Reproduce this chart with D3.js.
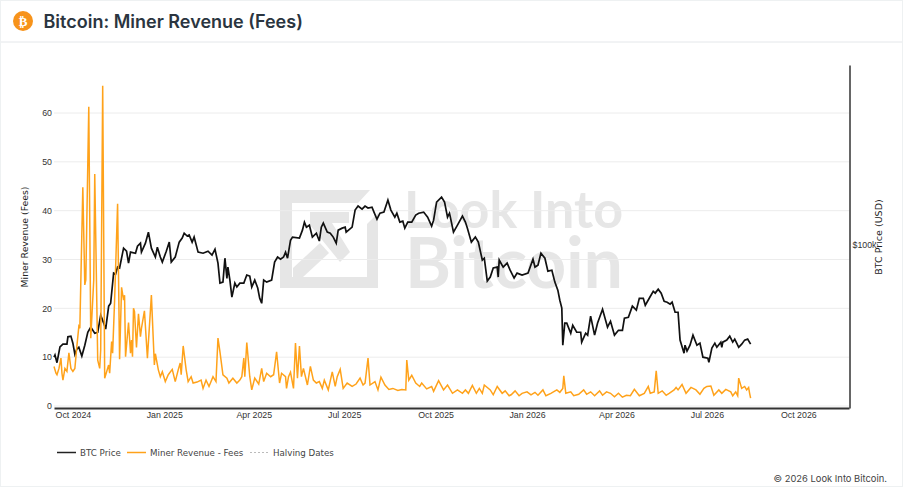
<!DOCTYPE html>
<html lang="en">
<head>
<meta charset="UTF-8">
<title>Bitcoin: Miner Revenue (Fees)</title>
<style>
  html, body { margin: 0; background: #fff; }
  svg { display: block; font-family: "DejaVu Sans", sans-serif; }
</style>
</head>
<body>
<svg width="903" height="488"></svg>
<script src="https://d3js.org/d3.v7.min.js"></script>
<script>
// days counted from the first data point
const startDate = "2024-09-12";
const xTicks = ["2024-10-01","2025-01-01","2025-04-01","2025-07-01","2025-10-01","2026-01-01","2026-04-01","2026-07-01","2026-10-01"];
const feeTicks = [0,10,20,30,40,50,60];
const priceTicks = [100];
const legendNames = ["BTC Price","Miner Revenue - Fees","Halving Dates"];

const priceDays = [0,1,3,6,9,13,14,17,19,21,23,25,28,31,34,37,41,44,47,50,52,55,57,60,62,64,66,70,73,75,77,82,84,87,88,92,95,98,102,104,107,109,113,116,118,122,126,129,131,134,136,139,141,145,150,155,159,162,165,167,170,172,174,175,177,179,182,184,187,191,194,197,199,202,205,207,209,211,214,219,222,225,228,
231,233,235,238,240,247,250,252,254,257,260,264,267,269,271,275,278,281,284,286,290,293,294,300,303,306,310,313,316,320,322,325,328,332,336,339,343,345,348,351,353,356,360,364,367,372,376,380,382,385,390,393,396,398,402,406,411,414,416,420,424,427,431,433,436,439,442,446,447,448,452,456,459,
463,466,471,477,482,484,487,490,494,497,501,504,507,509,511,512,514,516,520,522,526,530,531,535,537,540,544,547,552,557,560,564,568,572,574,578,582,586,589,593,595,599,603,605,608,611,614,617,620,622,625,628,630,634,635,637,640,643,647,650,653,658,659,662,665,667,671,672,673,677,680,683,685,687,689,692,695,698,701];
const priceValues = [59.4,60,57.9,62.3,63.1,63.1,65.3,65.5,63.4,60.2,61.7,62.2,59.7,62.8,66.7,68.3,66.4,66.7,72.2,69.6,67.7,75.3,76.3,87.8,87.4,90.3,89.9,98.6,97.2,92,96.8,96.3,99.5,100.9,96.8,100.9,106.2,98.6,94.6,99,94.6,92.4,97.2,101.4,92.4,94.6,101.4,103.3,105.7,104.3,104.8,101.4,103.8,96.8,96.3,97.2,95.5,98.1,92,83.8,84.2,94.1,85.7,90.3,85,78.5,83.8,82.3,83.8,83.8,87,86.6,82.3,85,81.9,78.1,76.3,85,84.2,85,92.4,94.6,93.7,
94.6,96.8,94.1,102.3,103.8,103.3,107.2,111.2,108.7,109.7,103.8,105.7,101.9,108.7,110.8,106.2,105.7,103.8,100.9,107.2,108.2,108.7,106.2,108.7,117.7,119.9,118.2,119.9,118.8,119.3,116.6,112.8,116,116.6,123.3,117.7,113.9,116,111.3,111.8,108.2,111.3,111.3,115,116,116.6,113.9,109.2,112.3,122.1,125,122.1,113.9,116,106.2,109.7,114.4,111.3,108.2,101.4,103.8,101.4,93.3,94.1,84.6,86.2,89.9,90.3,86.2,93.3,90.3,92,89,
85.8,87.8,87,87.8,93.7,90.3,91.1,96.3,94.1,88.6,89,84.2,81.1,77.4,74.6,62.8,69.6,69.6,66.4,68.9,66.7,66.7,63.7,66.4,65.8,71.9,65.8,69.6,74.2,68.3,70.2,65.8,67.3,67.3,71.2,71.5,75.3,73.9,78.1,78.1,75.6,78.1,80.7,80,81.5,80,77,76.7,76,76.7,73.2,73.2,64.3,60.5,62.8,61.1,62.8,65.8,62.8,63.4,59.4,59.1,58,62,63.4,62.2,63.7,62.2,63.7,64.3,65.5,63.7,64.6,63.4,62.2,63.1,64.3,64.6,63.1];

const feeDays = [0,2,3,5,7,8,9,11,13,15,17,19,21,23,25,26,29,31,32,35,37,40,41,44,46,47,49,51,55,56,58,59,61,64,66,68,70,71,72,75,77,78,79,80,81,83,85,87,88,91,94,98,101,102,105,107,109,112,115,119,122,125,127,128,130,133,135,138,140,144,148,150,153,156,160,163,165,167,170,174,176,180,184,187,189,191,192,194,197,199,202,206,209,211,214,218,221,224,227,
229,233,234,236,238,241,243,245,247,249,251,255,258,261,264,267,270,272,276,280,283,285,288,291,295,300,304,308,311,313,316,318,323,326,329,333,337,341,346,350,354,355,357,360,364,368,370,375,380,382,387,392,396,401,406,411,414,417,421,425,428,431,433,439,442,446,451,454,458,
460,464,468,471,476,480,484,487,492,495,500,506,509,512,513,515,520,523,528,533,536,540,544,549,552,556,560,564,568,572,576,580,584,589,594,598,600,604,606,608,612,616,619,624,626,628,632,636,641,646,650,654,657,661,664,669,672,676,681,683,686,688,689,692,695,697,699,700,701];
const feeValues = [8.1,6.7,6.4,7.7,9.8,6.7,5.3,7.7,7.1,10.9,7.7,7.1,7.7,12.2,16.3,15.9,44.8,24.8,25.8,61.3,13.9,25.8,47.5,9.4,7.7,11.5,65.6,5.7,8.4,6.7,13.2,10.8,21.7,41.4,9.6,24.3,21.7,22.7,10.1,17.1,10.8,13.5,10.1,20,19.3,12,18.9,14.2,15.9,19.5,9.8,22.7,8.4,10.7,7.4,6,7,5,6.4,7.5,5,7.4,8.8,6.4,12.3,7.4,5,6,4.7,4.9,5.3,3.6,5.3,4,6,5,13.9,11.1,6.4,5.7,4.7,5.7,4.7,5.3,6,9.8,6,13,6,3.3,5.7,4.5,7.7,5,6.7,6,6.4,11.1,4.7,
6.7,6,3.6,6,6.9,3.6,12.9,5.7,12.3,6,7.7,4.3,8.1,5.3,4.7,5,3.6,5.3,3.3,7,4,6,7.5,3.6,4.7,4,4.5,5.7,4.3,4.7,9.8,4.3,5,3.3,5.9,4.3,3.4,3.6,3.2,3.4,3.3,9.4,5.3,6.3,4.7,4,4.7,3.5,4,3,5.2,3.3,4.3,2.6,3.3,2.6,3.3,2.6,4.2,2.6,3.6,2.6,4.3,3.3,2.3,4,2.6,3.1,2.1,
2.3,3.1,2.1,2.6,2.9,2.3,2.8,2.2,3.3,2.1,2.6,3.3,2.8,3.6,6.2,2.6,2.9,2.1,2.4,3.3,2.4,2.9,2.1,3.1,2.2,2.9,2.6,1.9,2.6,1.8,2.2,2.1,3.4,2.1,2.6,4,2.6,2.9,7.2,2.6,3.1,2.2,2.6,3.3,3.8,3.3,4.4,2.6,3.8,3.3,2.4,3.6,4,4.1,2.2,3.3,2.6,3.4,2.9,2.1,2.9,2.1,5.7,3.6,4,3.3,3.8,2.6,1.6];

const svg = d3.select("svg");
const parse = d3.utcParse("%Y-%m-%d");
const start = parse(startDate);
const toDate = d => d3.utcDay.offset(start, d);

const x = d3.scaleUtc().domain([start, d3.utcDay.offset(start, 800.6)]).range([54, 849]);
const yFee = d3.scaleLinear().domain([0, 60]).range([406, 113]);
const yPrice = d3.scaleLog().domain([46.9, 231]).range([408, 65]);

// page frame
svg.append("rect").attr("x", 0.5).attr("y", 0.5).attr("width", 902).attr("height", 486)
  .attr("fill", "#fff").attr("stroke", "#eef1f2");
svg.append("line").attr("x1", 1).attr("x2", 902).attr("y1", 42).attr("y2", 42).attr("stroke", "#e4e7ea");

// header
svg.append("circle").attr("cx", 23).attr("cy", 21).attr("r", 10).attr("fill", "#f7931a");
svg.append("text").attr("x", 23).attr("y", 25.5).attr("text-anchor", "middle")
  .style("font", "700 13px 'DejaVu Sans'").attr("fill", "#fff").text("₿");
svg.append("text").attr("x", 43.5).attr("y", 28)
  .style("font", "600 18px Inter").attr("fill", "#2b3540").text("Bitcoin: Miner Revenue (Fees)");

// watermark
const mark = svg.append("g").attr("fill", "#e6e6e6");
mark.append("path")
  .attr("d", "M280 190H370L358 203H292V277H367V224L378 213V288H280Z");
mark.append("path").attr("d", "M310 212H349V223H332L350 252L340 262L310 225Z");
mark.append("path").attr("d", "M293 268L320 243L329 253L303 277H293Z");
mark.append("text").attr("x", 404).attr("y", 228).attr("textLength", 219)
  .style("font", "700 52px Lato").text("Look Into");
mark.append("text").attr("x", 405).attr("y", 288).attr("textLength", 218)
  .style("font", "700 70px Lato").text("Bitcoin");

// grid
svg.append("g").selectAll("line").data(feeTicks).join("line")
  .attr("x1", 54).attr("x2", 849)
  .attr("y1", d => yFee(d)).attr("y2", d => yFee(d))
  .attr("stroke", "#ececec").attr("stroke-width", 1);

// series
const feeData = feeDays.map((d, i) => ({ date: toDate(d), value: feeValues[i] }));
const priceData = priceDays.map((d, i) => ({ date: toDate(d), value: priceValues[i] }));

svg.append("path").datum(priceData).attr("fill", "none").attr("stroke", "#111").attr("stroke-width", 1.7)
  .attr("d", d3.line().x(d => x(d.date)).y(d => yPrice(d.value)));
svg.append("path").datum(feeData).attr("fill", "none").attr("stroke", "#ffa21a").attr("stroke-width", 1.5)
  .attr("d", d3.line().x(d => x(d.date)).y(d => yFee(d.value)));

// axes
const bottom = svg.append("g").attr("transform", "translate(0,408)")
  .call(d3.axisBottom(x).tickValues(xTicks.map(parse)).tickFormat(d3.utcFormat("%b %Y")).tickSize(0).tickPadding(4));
bottom.select(".domain").attr("stroke", "#333").attr("stroke-width", 2);

const left = svg.append("g").attr("transform", "translate(54,0)")
  .call(d3.axisLeft(yFee).tickValues(feeTicks).tickSize(0).tickPadding(2));
left.select(".domain").remove();

const right = svg.append("g").attr("transform", "translate(849.5,0)")
  .call(d3.axisRight(yPrice).tickValues(priceTicks).tickFormat(d => "$" + d + "k").tickSize(0).tickPadding(3));
right.select(".domain").attr("stroke", "#333").attr("stroke-width", 1.5);

svg.selectAll(".tick text").style("font-size", "8.8px").attr("fill", "#333");

// axis titles
svg.append("text").attr("transform", "translate(28,237) rotate(-90)").attr("text-anchor", "middle")
  .style("font-size", "9.3px").attr("fill", "#222").text("Miner Revenue (Fees)");
svg.append("text").attr("transform", "translate(882,237) rotate(-90)").attr("text-anchor", "middle")
  .style("font-size", "9.5px").attr("fill", "#222").text("BTC Price (USD)");

// legend
const legendX = [57, 127, 250];
const legendColors = ["#222", "#ffa21a", "#bbb"];
const legend = svg.append("g").selectAll("g").data(legendNames).join("g")
  .attr("transform", (d, i) => `translate(${legendX[i]},452.5)`);
legend.append("line").attr("x1", 0).attr("x2", 19)
  .attr("stroke", (d, i) => legendColors[i]).attr("stroke-width", (d, i) => i == 2 ? 1 : 1.5)
  .attr("stroke-dasharray", (d, i) => i == 2 ? "2 2" : null);
legend.append("text").attr("x", 23).attr("y", 3.5)
  .style("font-size", "8.7px").attr("fill", "#444").text(d => d);

// footer
svg.append("text").attr("x", 887).attr("y", 482).attr("text-anchor", "end")
  .style("font", "400 9.4px Inter").attr("fill", "#444").text("© 2026 Look Into Bitcoin.");
</script>
</body>
</html>
